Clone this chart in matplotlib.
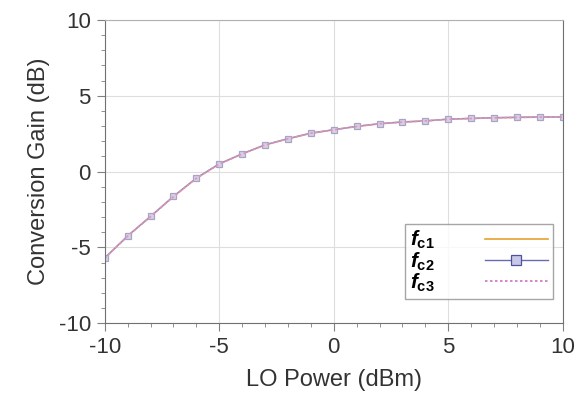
import matplotlib
matplotlib.use("Agg")
import matplotlib.pyplot as plt
from matplotlib.ticker import MultipleLocator

# conversion gain vs LO power for the three IF frequencies
lo_power = [-10, -9, -8, -7, -6, -5, -4, -3, -2, -1, 0, 1, 2, 3, 4, 5, 6, 7, 8, 9, 10]
gain_fc1 = [-5.7, -4.25, -2.95, -1.65, -0.45, 0.5, 1.17, 1.75, 2.17, 2.52, 2.76, 2.98, 3.15, 3.27, 3.35, 3.45, 3.5, 3.55, 3.57, 3.59, 3.6]
gain_fc2 = [-5.7, -4.24, -2.96, -1.63, -0.42, 0.51, 1.17, 1.77, 2.16, 2.54, 2.76, 2.98, 3.16, 3.27, 3.33, 3.46, 3.51, 3.55, 3.58, 3.6, 3.6]
gain_fc3 = [-5.72, -4.26, -2.97, -1.66, -0.44, 0.49, 1.16, 1.76, 2.16, 2.53, 2.75, 2.97, 3.15, 3.26, 3.34, 3.45, 3.5, 3.54, 3.57, 3.59, 3.6]
series_labels = [r"$f_{\mathrm{c1}}$", r"$f_{\mathrm{c2}}$", r"$f_{\mathrm{c3}}$"]

plt.rcParams["font.family"] = ["Liberation Sans", "DejaVu Sans"]
plt.rcParams["axes.unicode_minus"] = False
plt.rcParams["mathtext.fontset"] = "custom"
plt.rcParams["mathtext.it"] = "Liberation Sans:bold:italic"
plt.rcParams["mathtext.rm"] = "Liberation Sans:bold"
plt.rcParams["mathtext.bf"] = "Liberation Sans:bold"

fig = plt.figure(figsize=(5.79, 4.07), dpi=100)
ax = fig.add_axes([0.181, 0.206, 0.791, 0.745])

ax.plot(lo_power, gain_fc1, color="#e8b060", lw=1.2, label=series_labels[0])
ax.plot(lo_power, gain_fc2, color="#9a94c0", lw=1.0, marker="s", ms=4.5,
        mfc="#d6d0e2", mec="#aaa4c0", mew=0.9, label=series_labels[1])
ax.plot(lo_power, gain_fc3, color="#e090d0", lw=1.2, ls=(0, (1.5, 1.5)), label=series_labels[2])

ax.set_xlim(-10, 10)
ax.set_ylim(-10, 10)
ax.xaxis.set_major_locator(MultipleLocator(5))
ax.xaxis.set_minor_locator(MultipleLocator(1))
ax.yaxis.set_major_locator(MultipleLocator(5))
ax.yaxis.set_minor_locator(MultipleLocator(1))
ax.tick_params(which="major", direction="out", length=6, width=0.8, color="#808080",
               labelsize=16, labelcolor="#333333", pad=4)
ax.tick_params(which="minor", direction="out", length=3, width=0.7, color="#909090")
ax.grid(True, which="major", color="#dedede", lw=0.8)
ax.set_axisbelow(True)
for side in ["left", "bottom", "right"]:
    ax.spines[side].set_color("#707070")
ax.spines["top"].set_color("#b0b0b0")

ax.set_xlabel("LO Power (dBm)", fontsize=17, color="#333333", labelpad=8)
ax.set_ylabel("Conversion Gain (dB)", fontsize=17, color="#333333", labelpad=6)

leg = ax.legend(loc="lower right", bbox_to_anchor=(0.978, 0.079), markerfirst=False,
                numpoints=1, handlelength=3.0, fontsize=15, frameon=True, fancybox=False,
                borderpad=0.25, labelspacing=-0.05, handletextpad=2.4, borderaxespad=0)
leg.get_frame().set_edgecolor("#909090")
leg.get_frame().set_linewidth(1.0)
for h in leg.get_lines():
    if h.get_marker() == "s":
        h.set_markersize(7)
        h.set_color("#6a6ab0")
        h.set_markeredgecolor("#5050a0")
        h.set_markerfacecolor("#c8c8e6")
    elif h.get_linestyle() == "-":
        h.set_color("#e8a030")
    else:
        h.set_color("#d070c0")

fig.savefig("out.png", dpi=100)
